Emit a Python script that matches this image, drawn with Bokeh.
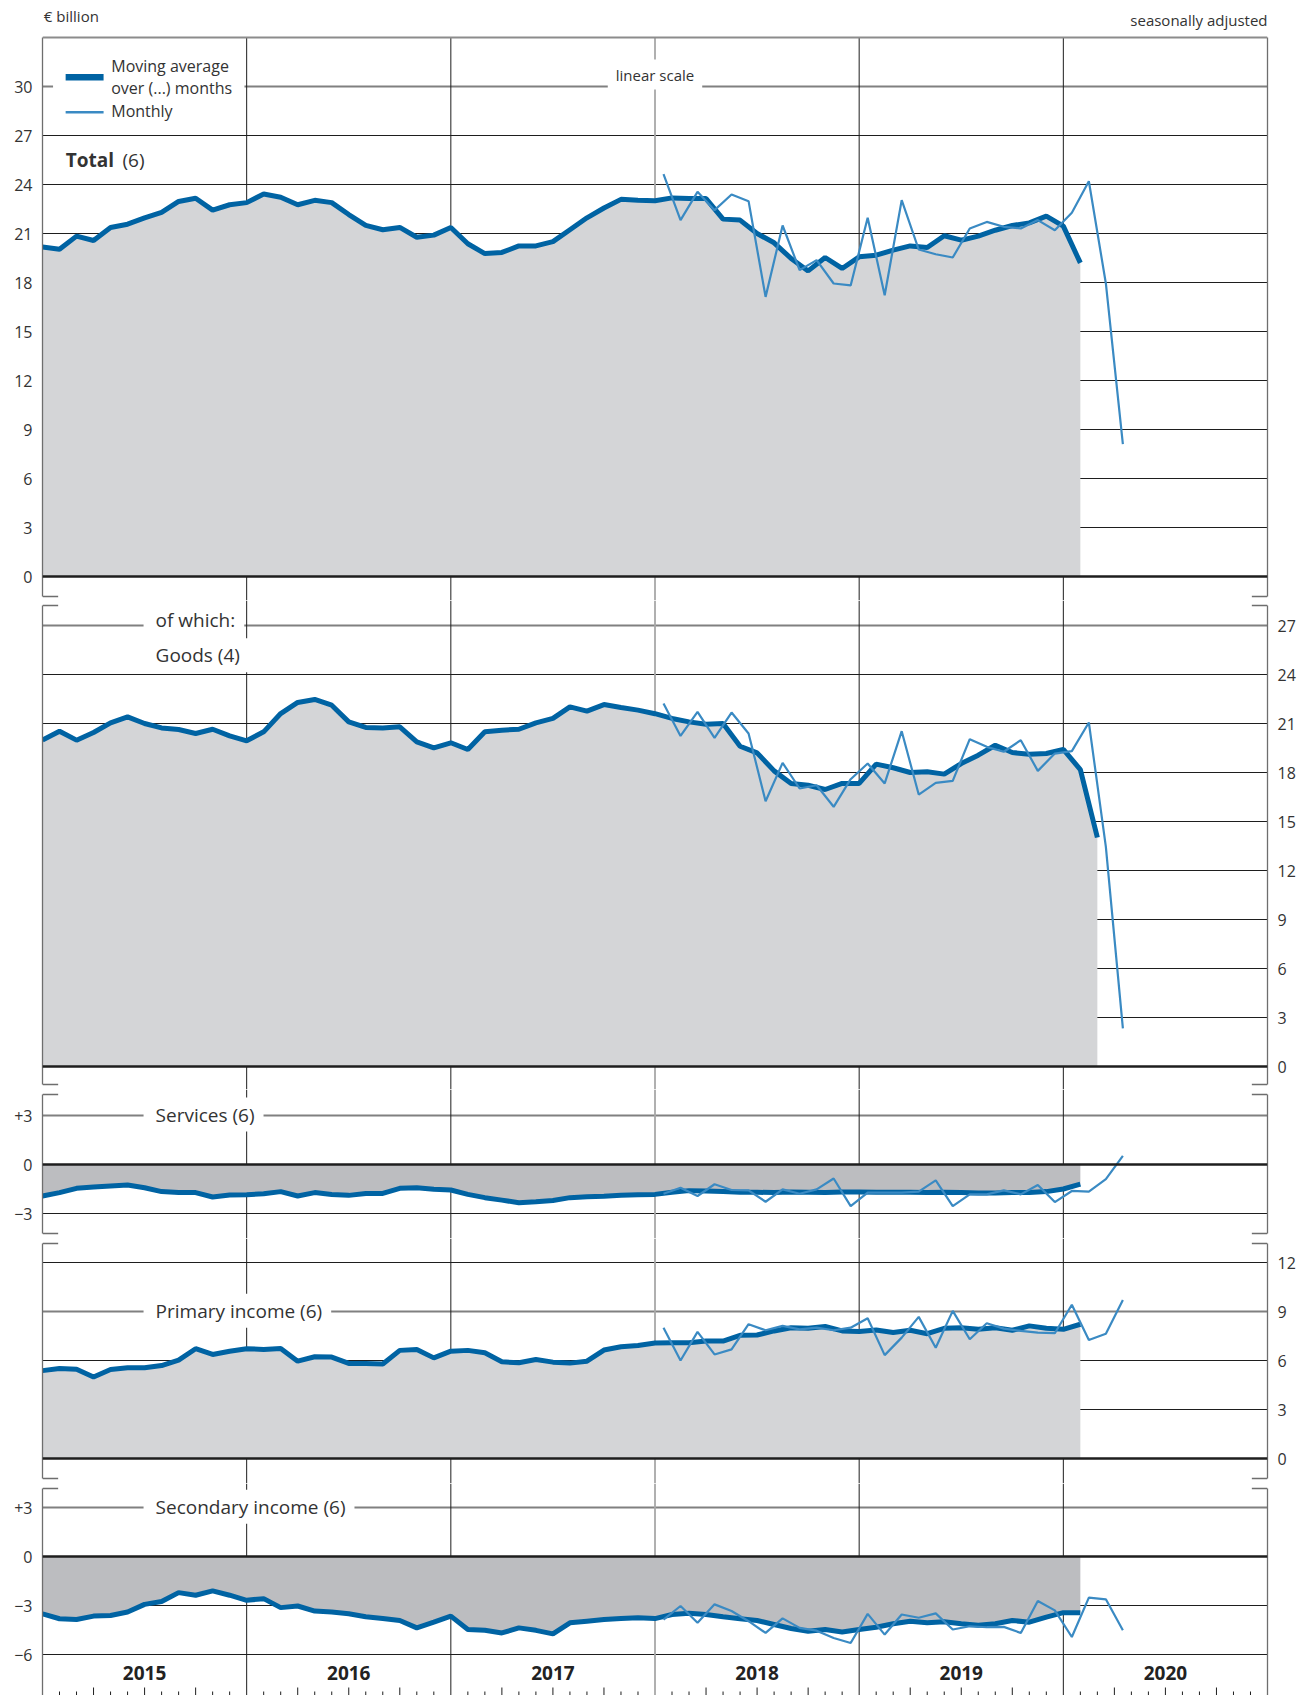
import numpy as np
from bokeh.plotting import figure
from bokeh.models import (Range1d, FixedTicker, LinearAxis, Span, Label,
                          BoxAnnotation, Grid, ColumnDataSource)
from bokeh.layouts import column
from bokeh.embed import file_html
from bokeh.resources import INLINE
from bokeh.core.properties import value

# ---------------------------------------------------------------- data
# EUR billion, seasonally adjusted.  x = months counted from Jan 2015.
YEARS = ["2015", "2016", "2017", "2018", "2019", "2020"]
MONTHLY_START = 36.5          # January 2018 (mid-month)

TOTAL_MA = [20.17, 20.04, 20.84, 20.57, 21.37, 21.57, 21.96, 22.30, 22.96, 23.16,
            22.43, 22.76, 22.89, 23.42, 23.22, 22.76, 23.03, 22.89, 22.16, 21.50,
            21.23, 21.37, 20.77, 20.90, 21.37, 20.37, 19.77, 19.84, 20.24, 20.24,
            20.50, 21.23, 21.96, 22.56, 23.09, 23.03, 23.00, 23.18, 23.14, 23.14,
            21.88, 21.82, 21.00, 20.43, 19.47, 18.71, 19.53, 18.86, 19.57, 19.67,
            19.98, 20.24, 20.14, 20.86, 20.59, 20.84, 21.20, 21.49, 21.65, 22.06,
            21.45, 19.20]
TOTAL_M = [24.63, 21.82, 23.55, 22.43, 23.39, 22.98, 17.12, 21.49, 18.76, 19.37,
           17.94, 17.82, 21.96, 17.22, 23.04, 20.02, 19.73, 19.53, 21.31, 21.71,
           21.41, 21.31, 21.82, 21.20, 22.27, 24.20, 17.94, 8.10]

GOODS_MA = [19.98, 20.53, 19.98, 20.45, 21.04, 21.41, 21.00, 20.73, 20.63, 20.39,
            20.65, 20.24, 19.94, 20.49, 21.61, 22.29, 22.47, 22.12, 21.10, 20.76,
            20.73, 20.80, 19.88, 19.51, 19.82, 19.41, 20.49, 20.59, 20.65, 21.04,
            21.31, 22.02, 21.76, 22.16, 21.98, 21.82, 21.60, 21.31, 21.10, 20.96,
            21.00, 19.61, 19.20, 18.10, 17.33, 17.22, 16.96, 17.33, 17.33, 18.51,
            18.29, 18.00, 18.04, 17.90, 18.55, 19.06, 19.67, 19.22, 19.12, 19.16,
            19.41, 18.18, 14.02]
GOODS_M = [22.22, 20.24, 21.71, 20.12, 21.67, 20.39, 16.24, 18.59, 17.02, 17.22,
           15.90, 17.59, 18.55, 17.33, 20.53, 16.65, 17.37, 17.49, 20.04, 19.57,
           19.27, 19.98, 18.10, 19.16, 19.31, 21.06, 13.45, 2.33]

SERV_MA = [-1.93, -1.72, -1.46, -1.38, -1.31, -1.25, -1.42, -1.66, -1.72, -1.72,
           -1.99, -1.87, -1.85, -1.79, -1.66, -1.93, -1.72, -1.83, -1.89, -1.77,
           -1.77, -1.46, -1.42, -1.52, -1.56, -1.83, -2.03, -2.18, -2.34, -2.28,
           -2.20, -2.03, -1.97, -1.95, -1.89, -1.85, -1.83, -1.70, -1.60, -1.62,
           -1.66, -1.70, -1.70, -1.72, -1.68, -1.70, -1.72, -1.68, -1.68, -1.70,
           -1.70, -1.70, -1.72, -1.70, -1.72, -1.74, -1.74, -1.72, -1.72, -1.66,
           -1.50, -1.20]
SERV_M = [-1.79, -1.42, -1.93, -1.21, -1.56, -1.58, -2.28, -1.52, -1.79, -1.52,
          -0.86, -2.55, -1.72, -1.72, -1.72, -1.66, -0.97, -2.55, -1.83, -1.83,
          -1.58, -1.83, -1.25, -2.30, -1.62, -1.66, -0.90, 0.53]

PRIM_MA = [5.38, 5.51, 5.47, 4.99, 5.45, 5.55, 5.55, 5.69, 6.02, 6.72,
           6.37, 6.57, 6.72, 6.68, 6.74, 5.96, 6.23, 6.21, 5.82, 5.82,
           5.79, 6.62, 6.68, 6.16, 6.57, 6.62, 6.47, 5.92, 5.86, 6.06,
           5.90, 5.84, 5.96, 6.64, 6.84, 6.92, 7.07, 7.09, 7.09, 7.19,
           7.19, 7.54, 7.56, 7.81, 8.01, 7.97, 8.08, 7.81, 7.77, 7.87,
           7.71, 7.85, 7.64, 7.97, 8.01, 7.91, 8.01, 7.85, 8.12, 7.97,
           7.91, 8.22]
PRIM_M = [8.01, 6.00, 7.75, 6.37, 6.68, 8.22, 7.85, 8.12, 7.91, 8.01,
          7.85, 8.01, 8.59, 6.33, 7.40, 8.67, 6.78, 9.04, 7.30, 8.28,
          7.95, 7.81, 7.71, 7.67, 9.41, 7.25, 7.64, 9.70]

SEC_MA = [-3.51, -3.81, -3.86, -3.65, -3.61, -3.40, -2.93, -2.76, -2.21, -2.37,
          -2.10, -2.37, -2.68, -2.58, -3.13, -3.03, -3.34, -3.40, -3.51, -3.69,
          -3.79, -3.92, -4.37, -4.02, -3.65, -4.47, -4.52, -4.68, -4.37, -4.52,
          -4.74, -4.06, -3.96, -3.86, -3.79, -3.75, -3.80, -3.55, -3.48, -3.55,
          -3.69, -3.81, -3.92, -4.16, -4.41, -4.58, -4.47, -4.62, -4.47, -4.33,
          -4.12, -3.96, -4.06, -4.00, -4.12, -4.21, -4.12, -3.92, -4.02, -3.71,
          -3.44, -3.44]
SEC_M = [-3.86, -3.03, -4.06, -2.93, -3.34, -3.96, -4.68, -3.79, -4.37, -4.54,
         -4.99, -5.30, -3.51, -4.78, -3.55, -3.75, -3.48, -4.47, -4.27, -4.33,
         -4.31, -4.68, -2.72, -3.30, -4.93, -2.52, -2.62, -4.52]

# ---------------------------------------------------------------- style
FONT = "Open Sans"
TXT = "#333333"
MA_COL = "#0063a3"
M_COL = "#3a8ac3"
FILL_POS = "#d4d5d7"
FILL_NEG = "#bcbdc0"
GRID = "#1e1e1e"
LABEL_LINE = "#808080"
BORDER = "#6e6e6e"
PPU = 49 / 3.0            # pixels per EUR billion
FRAME_W = 1225
NMONTHS = 12 * len(YEARS)
TICKLEN = 0.92            # break-mark length in months


def make(top, bottom, zero):
    y0 = -(bottom - zero) / PPU
    y1 = (zero - top) / PPU
    p = figure(frame_width=FRAME_W, frame_height=bottom - top,
               x_range=Range1d(0, NMONTHS), y_range=Range1d(y0, y1),
               output_backend="svg", toolbar_location=None,
               x_axis_location=None, y_axis_location=None,
               min_border_left=42, min_border_right=34,
               min_border_top=0, min_border_bottom=0,
               outline_line_color=None, background_fill_color="white",
               border_fill_color="white")
    p.xgrid.visible = False
    p.ygrid.visible = False
    return p


def val(page_y, zero):
    return (zero - page_y) / PPU


def grid(p, ticks):
    p.add_layout(Grid(dimension=1, ticker=FixedTicker(ticks=ticks),
                      grid_line_color=GRID, grid_line_width=1))


def year_lines(p, y0, y1):
    xs = [12 * k for k in range(1, len(YEARS))]
    cols = [("#a8a8a8" if x == int(MONTHLY_START) else GRID) for x in xs]
    wids = [(1.8 if x == int(MONTHLY_START) else 1.0) for x in xs]
    src = ColumnDataSource(dict(x=xs, y0=[y0] * len(xs), y1=[y1] * len(xs),
                                c=cols, w=wids))
    p.segment(x0="x", y0="y0", x1="x", y1="y1", line_color="c",
              line_width="w", source=src)


def label_line(p, v):
    p.add_layout(Span(location=v, dimension="width", line_color=LABEL_LINE,
                      line_width=1.8, level="underlay"))


def zero_line(p):
    p.add_layout(Span(location=0, dimension="width", line_color=GRID,
                      line_width=2.6))


def borders(p, lo, hi, label_side, ticks, overrides=None, brk_lo=True, brk_hi=True):
    for side in ("left", "right"):
        ax = LinearAxis(ticker=FixedTicker(ticks=(ticks if side == label_side else [])),
                        bounds=(lo, hi), axis_line_color=BORDER, axis_line_width=1.3,
                        major_tick_in=0, major_tick_out=0,
                        minor_tick_in=0, minor_tick_out=0,
                        major_label_standoff=10, major_label_text_font=FONT,
                        major_label_text_font_size="16px",
                        major_label_text_color=TXT)
        if overrides and side == label_side:
            ax.major_label_overrides = overrides
        p.add_layout(ax, side)
    ys = []
    if brk_lo:
        ys.append(lo)
    if brk_hi:
        ys.append(hi)
    for y in ys:
        p.segment(x0=[0, NMONTHS - TICKLEN], y0=[y, y], x1=[TICKLEN, NMONTHS],
                  y1=[y, y], line_color=BORDER, line_width=1.3)


def series(p, ma, mon, fill):
    x_ma = np.arange(len(ma))
    x_m = MONTHLY_START + np.arange(len(mon))
    p.varea(x=x_ma, y1=np.zeros(len(ma)), y2=ma, fill_color=fill)
    p.line(x_ma, ma, line_color=MA_COL, line_width=5)
    p.line(x_m, mon, line_color=M_COL, line_width=2.2)


def tlabel(p, x, y, text, size, align="left", bold=False, pad=None):
    kw = dict(x=x, y=y, text=text, text_font=FONT, text_font_size=f"{size}px",
              text_color=TXT, text_align=align, text_baseline="middle",
              text_font_style="bold" if bold else "normal")
    if pad is not None:
        kw.update(background_fill_color="white", background_fill_alpha=1.0,
                  padding=pad)
    p.add_layout(Label(**kw))


LBL_X = 5.94     # left edge of the white caption boxes (months)
CAP_PAD = dict(left=12, right=9, top=4, bottom=4)

# ---------------------------------------------------------------- panel 1: total
Z1 = 576
p1 = make(0, 600, Z1)
lo1, hi1 = val(596, Z1), val(37, Z1)
grid(p1, list(range(3, 28, 3)))
label_line(p1, 30)
year_lines(p1, p1.y_range.start, hi1)
series(p1, TOTAL_MA, TOTAL_M, FILL_POS)
zero_line(p1)
p1.add_layout(Span(location=hi1, dimension="width", line_color="#8c8c8c", line_width=1.8))
borders(p1, lo1, hi1, "left", list(range(0, 31, 3)), brk_hi=False)
# legend
p1.add_layout(BoxAnnotation(left=0.62, right=11.87, bottom=val(122, Z1), top=val(55, Z1),
                            fill_color="white", fill_alpha=1.0, line_color=None,
                            level="underlay"))
p1.segment(x0=[1.36], y0=[val(76.7, Z1)], x1=[3.59], y1=[val(76.7, Z1)],
           line_color=MA_COL, line_width=6.5)
p1.segment(x0=[1.36], y0=[val(111.7, Z1)], x1=[3.59], y1=[val(111.7, Z1)],
           line_color=M_COL, line_width=2.5)
tlabel(p1, 4.04, val(65.5, Z1), "Moving average", 16)
tlabel(p1, 4.04, val(87.3, Z1), "over (...) months", 16)
tlabel(p1, 4.04, val(110.7, Z1), "Monthly", 16)
tlabel(p1, 36, val(74, Z1), "linear scale", 15, align="center",
       pad=dict(left=8, right=8, top=5, bottom=5))
tlabel(p1, 1.36, val(159, Z1), "Total", 19, bold=True)
tlabel(p1, 4.70, val(159, Z1), "(6)", 19)
tlabel(p1, 0.08, val(15, Z1), "€ billion", 15)
tlabel(p1, NMONTHS, val(19.7, Z1), "seasonally adjusted", 15, align="right")

# ---------------------------------------------------------------- panel 2: goods
Z2 = 1066
p2 = make(600, 1089, Z2)
lo2, hi2 = val(1084, Z2), val(605, Z2)
grid(p2, list(range(3, 25, 3)))
label_line(p2, 27)
year_lines(p2, p2.y_range.start, p2.y_range.end)
series(p2, GOODS_MA, GOODS_M, FILL_POS)
zero_line(p2)
borders(p2, lo2, hi2, "right", list(range(0, 28, 3)))
tlabel(p2, LBL_X, val(619.7, Z2), "of which:", 19, pad=CAP_PAD)
tlabel(p2, LBL_X, val(654.7, Z2), "Goods (4)", 19, pad=CAP_PAD)

# ---------------------------------------------------------------- panel 3: services
Z3 = 1164
p3 = make(1089, 1238, Z3)
lo3, hi3 = val(1233, Z3), val(1094, Z3)
grid(p3, [-3])
label_line(p3, 3)
year_lines(p3, p3.y_range.start, p3.y_range.end)
series(p3, SERV_MA, SERV_M, FILL_NEG)
zero_line(p3)
borders(p3, lo3, hi3, "left", [-3, 0, 3], overrides={3: "+3", -3: "\u22123"})
tlabel(p3, LBL_X, val(1114, Z3), "Services (6)", 19, pad=CAP_PAD)

# ---------------------------------------------------------------- panel 4: primary income
Z4 = 1458
p4 = make(1238, 1483, Z4)
lo4, hi4 = val(1478, Z4), val(1243, Z4)
grid(p4, [3, 6, 12])
label_line(p4, 9)
year_lines(p4, p4.y_range.start, p4.y_range.end)
series(p4, PRIM_MA, PRIM_M, FILL_POS)
zero_line(p4)
borders(p4, lo4, hi4, "right", [0, 3, 6, 9, 12])
tlabel(p4, LBL_X, val(1310.2, Z4), "Primary income (6)", 19, pad=CAP_PAD)

# ---------------------------------------------------------------- panel 5: secondary income
Z5 = 1556
p5 = make(1483, 1695, Z5)
lo5, hi5 = p5.y_range.start, val(1488, Z5)
grid(p5, [-6, -3])
label_line(p5, 3)
year_lines(p5, p5.y_range.start, p5.y_range.end)
series(p5, SEC_MA, SEC_M, FILL_NEG)
zero_line(p5)
borders(p5, lo5, hi5, "left", [-6, -3, 0, 3],
        overrides={3: "+3", -3: "\u22123", -6: "\u22126"}, brk_lo=False)
tlabel(p5, LBL_X, val(1506.2, Z5), "Secondary income (6)", 19, pad=CAP_PAD)
# time axis: year captions and month / quarter ticks
ybot = p5.y_range.start
p5.text(x=[12 * k + 6 for k in range(len(YEARS))], y=[val(1672, Z5)] * len(YEARS),
        text=YEARS, text_font=value(FONT), text_font_size=value("19px"),
        text_font_style="bold", text_align="center", text_baseline="middle",
        text_color="#222222")
mt = [k for k in range(1, NMONTHS) if k % 12]
mlen = [(8 if k % 3 == 0 else 4) / PPU for k in mt]
p5.segment(x0=mt, y0=[ybot] * len(mt), x1=mt, y1=[ybot + l for l in mlen],
           line_color=GRID, line_width=1)

layout = column(p1, p2, p3, p4, p5, spacing=0)
open("out.html", "w").write(file_html(layout, INLINE))
